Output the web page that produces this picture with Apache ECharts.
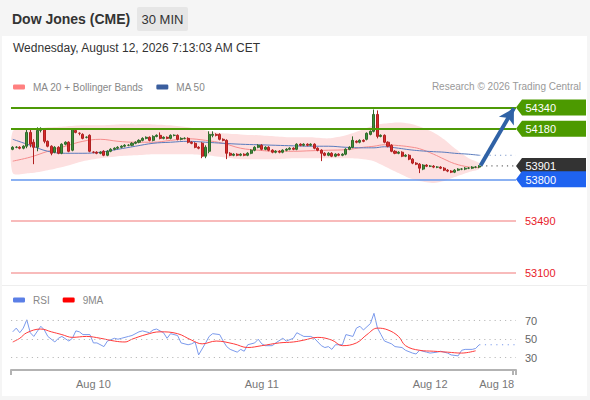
<!DOCTYPE html>
<html><head><meta charset="utf-8">
<script src="https://cdn.jsdelivr.net/npm/echarts@6/dist/echarts.min.js"></script>
<style>html,body{margin:0;padding:0;background:#f5f5f5}#c{width:590px;height:400px}</style>
</head><body><div id="c"></div>
<script>
// ---- data ----
const N_SLOTS = 144; // 134 candles + future slots
const tickIndex = [23, 71, 119, 138];
const tickText = ['Aug 10', 'Aug 11', 'Aug 12', 'Aug 18'];

const open = [54026,54041,54041,54034,54049,54153,54079,54041,54168,54176,
54086,54049,54004,54041,53996,54064,54079,54019,54168,54146,
54138,54116,54131,54004,54004,53996,54011,53981,54011,54026,
54034,54041,54049,54056,54056,54071,54079,54093,54108,54116,
54093,54123,54131,54108,54116,54108,54131,54131,54101,54108,
54108,54079,54071,54041,54071,53974,54011,54131,54138,54138,
54101,54093,53996,53981,53989,53981,53989,53981,53996,54019,
54041,54056,54026,54041,54019,54004,54011,54004,54019,54026,
54034,54026,54064,54056,54064,54056,54064,54034,54019,53996,
53981,53996,53974,53989,53981,53989,54026,54041,54086,54079,
54093,54101,54138,54161,54288,54123,54131,54079,54056,54011,
53996,54004,53974,53981,53952,53922,53914,53877,53907,53899,
53899,53892,53892,53884,53869,53862,53854,53869,53877,53877,
53884,53884,53892,53892];
const close = [54041,54041,54034,54049,54153,54064,54041,54168,54183,54086,
54049,53996,54041,53996,54064,54079,54011,54176,54153,54146,
54108,54116,54011,54004,53996,54004,53981,54011,54026,54034,
54041,54049,54056,54056,54071,54079,54093,54108,54116,54093,
54123,54131,54108,54116,54108,54131,54131,54101,54108,54108,
54079,54071,54041,54034,53974,54041,54138,54138,54131,54101,
54093,53996,53981,53989,53981,53989,53981,53996,54019,54041,
54056,54026,54041,54019,54004,54011,54004,54019,54026,54034,
54026,54064,54056,54064,54056,54064,54034,54019,53996,53981,
53996,53974,53989,53981,53989,54026,54041,54093,54079,54093,
54086,54146,54161,54288,54123,54131,54079,54049,54011,53996,
54004,53974,53981,53952,53922,53914,53884,53907,53899,53899,
53892,53892,53884,53869,53862,53854,53869,53877,53877,53884,
53884,53892,53892,53901];
const low = [54019,54034,54026,54026,54034,54041,53914,54011,54153,54071,
54041,53981,53996,53989,53989,54056,54004,54011,54146,54131,
54101,54108,54004,53996,53989,53989,53974,53974,54004,54019,
54026,54034,54041,54049,54049,54064,54071,54086,54101,54086,
54086,54116,54101,54101,54101,54101,54123,54093,54093,54101,
54071,54064,54034,54026,53959,53959,53996,54116,54123,54093,
54086,53952,53974,53974,53974,53974,53974,53974,53989,54011,
54034,54019,54019,54011,53996,53996,53996,53996,54011,54019,
54019,54019,54049,54049,54049,54049,54026,54011,53937,53974,
53974,53967,53967,53974,53974,53981,54019,54034,54071,54071,
54079,54093,54131,54153,54108,54116,54071,54041,54004,53989,
53989,53967,53967,53944,53914,53907,53847,53869,53892,53892,
53884,53884,53877,53862,53854,53847,53847,53862,53869,53869,
53877,53877,53884,53884];
const high = [54049,54049,54049,54056,54183,54176,54101,54191,54191,54183,
54093,54056,54049,54049,54071,54086,54086,54183,54183,54153,
54146,54123,54138,54011,54011,54011,54019,54019,54034,54041,
54049,54056,54064,54064,54079,54086,54101,54116,54123,54123,
54131,54138,54153,54123,54123,54138,54138,54138,54116,54116,
54116,54086,54079,54049,54079,54056,54161,54161,54146,54146,
54108,54101,54004,53996,53996,53996,53996,54004,54026,54049,
54064,54064,54049,54049,54026,54019,54019,54026,54034,54041,
54041,54071,54071,54071,54071,54071,54071,54041,54026,54004,
54004,54004,53996,53996,53996,54034,54049,54123,54093,54101,
54101,54153,54168,54325,54318,54138,54138,54086,54064,54019,
54011,54011,53989,53989,53959,53929,53922,53914,53914,53907,
53907,53899,53899,53892,53877,53869,53877,53884,53884,53892,
53892,53899,53899,53907];

// indicator samples (bar index -> value)
const indIdx = [0,5,10,15,20,25,30,35,40,45,50,55,60,65,70,75,80,85,90,95,100,103,106,110,113,116,120,123,126,130,133];
const ma20 = [53937,53967,54011,54049,54086,54101,54086,54079,54079,54093,54105,54093,54071,54034,54019,54011,54011,54015,54019,54023,54041,54049,54060,54054,54045,54030,53989,53952,53918,53893,53888];
const ma50 = [54101,54056,54011,53996,53996,54004,54026,54049,54071,54079,54086,54079,54071,54064,54060,54056,54052,54049,54049,54041,54037,54037,54045,54034,54023,54015,54008,54004,53996,53989,53981];
const bbUpper = [54161,54176,54191,54198,54206,54206,54213,54213,54213,54206,54191,54168,54146,54138,54131,54123,54116,54116,54108,54131,54176,54206,54220,54228,54220,54198,54153,54101,54034,53959,53922];
const bbLower = [53847,53847,53869,53899,53937,53959,53974,53981,53989,53989,53989,53981,53967,53952,53952,53952,53959,53959,53959,53959,53952,53937,53899,53847,53810,53787,53772,53787,53817,53854,53877];

const rsiIdx = [0,1,2,3,4,5,6,8,9,10,12,13,14,16,17,18,19,20,22,23,24,26,27,29,30,31,33,34,36,37,39,40,41,43,44,45,47,48,50,51,52,53,55,56,57,59,60,61,62,64,65,66,67,69,70,71,72,74,75,77,78,80,81,82,83,85,86,88,89,90,91,92,94,95,97,98,99,100,102,103,104,105,106,108,109,111,112,114,115,116,118,119,121,122,124,125,127,128,129,131,132,133];
const rsiVal = [58,62,57,62,71,57,53,64,60,53,47,51,53,48,51,59,58,55,55,46,46,42,48,51,50,51,53,54,58,59,57,60,61,57,51,56,54,46,44,45,47,33,46,53,56,55,48,42,39,36,39,37,44,46,50,45,43,43,46,51,48,51,57,55,53,53,51,43,41,42,39,44,44,55,53,62,64,60,67,78,62,55,48,45,42,41,38,35,34,38,36,35,36,37,35,33,32,38,39,39,40,44];
const rsiMaIdx = [0,2,4,8,11,14,17,21,25,29,32,34,38,42,47,51,54,58,63,67,71,76,80,83,87,91,94,98,101,104,107,110,112,116,120,124,128,132];
const rsiMaVal = [47,51,57,61,58,55,52,53,51,48,47,50,55,58,56,49,45,48,45,41,43,46,47,49,52,49,43,46,55,62,60,53,43,38,37,36,35,37.5];
const rsiLevels = [70, 50, 30];

const resistance = [54340, 54180];
const lastPrice = 53901;
const support = [53800];
const lowerLevels = [53490, 53100];
const ma50Last = 53981;
const rsiLast = 44;
const arrowTarget = 54335;

// ---- build ----
const categories = [];
const t0 = Date.UTC(2026, 7, 9, 12, 30);
for (let i = 0; i < N_SLOTS; i++) {
  const d = new Date(t0 + i * 1800000);
  categories.push((d.getUTCMonth()+1) + '-' + d.getUTCDate() + ' ' + String(d.getUTCHours()).padStart(2,'0') + ':' + String(d.getUTCMinutes()).padStart(2,'0'));
}
const candles = open.map((o, i) => [o, close[i], low[i], high[i]]);
const zip = (a, b) => a.map((v, i) => [v, b[i]]);
const lastIdx = open.length - 1;

const FONT = '"Liberation Sans", Arial, sans-serif';
const tagList = [
  [N_SLOTS - 0.5, resistance[0], 0],
  [N_SLOTS - 0.5, resistance[1], 0],
  [N_SLOTS - 0.5, lastPrice, 1],
  [N_SLOTS - 0.5, support[0], 2],
  [N_SLOTS - 0.5, lowerLevels[0], 3],
  [N_SLOTS - 0.5, lowerLevels[1], 3]
];
const tagColors = ['#4c9a00', '#333333', '#1f63f0', '#e8212a'];

const chart = echarts.init(document.getElementById('c'), null, {renderer: 'svg'});
chart.setOption({
  animation: false,
  backgroundColor: '#f5f5f5',
  textStyle: {fontFamily: FONT},
  graphic: [
    {type: 'rect', z: -10, silent: true, shape: {x: 2, y: 36, width: 585, height: 360}, style: {fill: '#ffffff'}},
    {type: 'rect', z: -9, silent: true, shape: {x: 2, y: 285, width: 585, height: 1}, style: {fill: '#eeeeee'}},
    {type: 'text', x: 12, y: 19, style: {text: 'Dow Jones (CME)', font: 'bold 14px ' + FONT, fill: '#333', verticalAlign: 'middle'}},
    {type: 'rect', shape: {x: 137, y: 7, width: 51, height: 24, r: 2}, style: {fill: '#e6e6e6'}},
    {type: 'text', x: 162.5, y: 19.5, style: {text: '30 MIN', font: '13px ' + FONT, fill: '#333', align: 'center', verticalAlign: 'middle'}},
    {type: 'text', x: 13, y: 48, style: {text: 'Wednesday, August 12, 2026 7:13:03 AM CET', font: '12px ' + FONT, fill: '#333', verticalAlign: 'middle'}},
    {type: 'text', x: 581, y: 86, style: {text: 'Research © 2026 Trading Central', font: '10px ' + FONT, fill: '#999', align: 'right', verticalAlign: 'middle'}}
  ],
  legend: [
    {data: ['MA 20 + Bollinger Bands', 'MA 50'], left: 8, top: 77, icon: 'roundRect', itemWidth: 12, itemHeight: 5,
     itemGap: 13, selectedMode: false, textStyle: {color: '#888', fontSize: 10, padding: [0, 0, 0, 3]}},
    {data: ['RSI', '9MA'], left: 8, top: 290, icon: 'roundRect', itemWidth: 12, itemHeight: 5,
     itemGap: 13, selectedMode: false, textStyle: {color: '#888', fontSize: 10, padding: [0, 0, 0, 3]}}
  ],
  grid: [
    {left: 11, right: 74, top: 95, height: 188},
    {left: 11, right: 74, top: 305, height: 65}
  ],
  xAxis: [
    {type: 'category', gridIndex: 0, data: categories, show: false},
    {type: 'value', gridIndex: 0, min: -0.5, max: N_SLOTS - 0.5, show: false},
    {type: 'category', gridIndex: 1, data: categories,
     axisLine: {lineStyle: {color: '#b3b3b3', width: 2}},
     axisTick: {show: true, length: 5, interval: (i) => i === 0 || i === N_SLOTS - 1, lineStyle: {color: '#b3b3b3', width: 2}},
     axisLabel: {interval: (i) => tickIndex.indexOf(i) >= 0, formatter: (v, i) => tickText[tickIndex.indexOf(i)] || '',
                 color: '#777', fontSize: 11, margin: 8},
     splitLine: {show: false}},
    {type: 'value', gridIndex: 1, min: -0.5, max: N_SLOTS - 0.5, show: false}
  ],
  yAxis: [
    {type: 'value', gridIndex: 0, min: 53021, max: 54434, show: false, splitLine: {show: false}},
    {type: 'value', gridIndex: 1, min: 16.7, max: 87, show: false, splitLine: {show: false}}
  ],
  series: [
    {type: 'custom', name: 'band', xAxisIndex: 1, yAxisIndex: 0, z: 1, silent: true,
     data: [[0, bbUpper[0]]],
     renderItem: function (params, api) {
       const pts = [];
       for (let i = 0; i < indIdx.length; i++) pts.push(api.coord([indIdx[i], bbUpper[i]]));
       for (let i = indIdx.length - 1; i >= 0; i--) pts.push(api.coord([indIdx[i], bbLower[i]]));
       return {type: 'polygon', shape: {points: pts, smooth: 0.25}, style: {fill: '#fde0e0'}};
     }},
    {type: 'line', name: 'MA 20 + Bollinger Bands', xAxisIndex: 1, yAxisIndex: 0, z: 2, data: zip(indIdx, ma20),
     smooth: 0.4, showSymbol: false, color: '#ff8080', lineStyle: {color: '#f58c8c', width: 1}},
    {type: 'line', name: 'MA 50', xAxisIndex: 1, yAxisIndex: 0, z: 2, data: zip(indIdx, ma50),
     smooth: 0.4, showSymbol: false, color: '#3a5e9e', lineStyle: {color: '#5a7bbd', width: 1}},
    {type: 'line', name: 'ma50ext', xAxisIndex: 1, yAxisIndex: 0, z: 2, data: [[lastIdx, ma50Last], [N_SLOTS - 0.6, ma50Last]],
     showSymbol: false, lineStyle: {color: '#7f9acb', width: 1, type: [1.2, 4]}},
    {type: 'line', name: 'lastext', xAxisIndex: 1, yAxisIndex: 0, z: 2, data: [[lastIdx + 0.5, lastPrice], [N_SLOTS - 0.6, lastPrice]],
     showSymbol: false, lineStyle: {color: '#444', width: 1, type: [1.2, 4]}},
    {type: 'candlestick', name: 'price', xAxisIndex: 0, yAxisIndex: 0, z: 3, data: candles, barWidth: '72%',
     itemStyle: {color: '#3f8f3a', color0: '#d62b2b', borderColor: '#2f6a2a', borderColor0: '#b02020', borderWidth: 1},
     markLine: {silent: true, symbol: ['none', 'none'], label: {show: false}, z: 4,
       data: [
         {yAxis: resistance[0], lineStyle: {color: '#4e9a06', width: 2, type: 'solid'}},
         {yAxis: resistance[1], lineStyle: {color: '#4e9a06', width: 2, type: 'solid'}},
         {yAxis: support[0], lineStyle: {color: '#6497ee', width: 1.5, type: 'solid'}},
         {yAxis: lowerLevels[0], lineStyle: {color: '#f6a5a5', width: 1.5, type: 'solid'}},
         {yAxis: lowerLevels[1], lineStyle: {color: '#f6a5a5', width: 1.5, type: 'solid'}}
       ]}},
    {type: 'line', name: 'arrow', xAxisIndex: 1, yAxisIndex: 0, z: 5, data: [], showSymbol: false,
     markLine: {silent: true, symbol: ['none', 'arrow'], symbolSize: [13, 15], label: {show: false},
       lineStyle: {color: '#2f62a6', width: 4, type: 'solid'},
       data: [[{coord: [lastIdx + 0.4, lastPrice + 4]}, {coord: [N_SLOTS - 1.1, arrowTarget]}]]}},
    {type: 'custom', name: 'tags', xAxisIndex: 1, yAxisIndex: 0, z: 6, clip: false, silent: true,
     encode: {x: 0, y: 1}, data: tagList,
     renderItem: function (params, api) {
       const y = api.coord([0, api.value(1)])[1];
       const x0 = params.coordSys.x + params.coordSys.width;
       const kind = api.value(2);
       const txt = String(api.value(1));
       const children = [];
       if (kind < 3) {
         children.push({type: 'polygon', shape: {points: [[x0, y], [x0 + 6, y - 8], [x0 + 70, y - 8], [x0 + 70, y + 8], [x0 + 6, y + 8]]},
                        style: {fill: tagColors[kind]}});
         children.push({type: 'text', x: x0 + 9.5, y: y + 0.5, style: {text: txt, fill: '#fff', font: '11px ' + FONT, verticalAlign: 'middle'}});
       } else {
         children.push({type: 'text', x: x0 + 9, y: y + 0.5, style: {text: txt, fill: tagColors[3], font: '11px ' + FONT, verticalAlign: 'middle'}});
       }
       return {type: 'group', children: children};
     }},
    {type: 'line', name: 'RSI', xAxisIndex: 3, yAxisIndex: 1, data: zip(rsiIdx, rsiVal), showSymbol: false,
     color: '#5b7fe6', lineStyle: {color: '#7b9aec', width: 1},
     markLine: {silent: true, symbol: ['none', 'none'],
       lineStyle: {color: '#bbbbbb', width: 1, type: [1.2, 4]},
       label: {show: true, position: 'end', formatter: (p) => String(p.value), color: '#666', fontSize: 11, distance: 9},
       data: rsiLevels.map(v => ({yAxis: v}))}},
    {type: 'line', name: 'rsiext', xAxisIndex: 3, yAxisIndex: 1, data: [[lastIdx, rsiLast], [N_SLOTS - 0.6, rsiLast]], showSymbol: false,
     lineStyle: {color: '#7b9aec', width: 1, type: [1.2, 4.5]}},
    {type: 'line', name: '9MA', xAxisIndex: 3, yAxisIndex: 1, data: zip(rsiMaIdx, rsiMaVal), showSymbol: false, smooth: 0.4,
     color: '#ff0000', lineStyle: {color: '#ff3b3b', width: 1}}
  ]
});
</script></body></html>
